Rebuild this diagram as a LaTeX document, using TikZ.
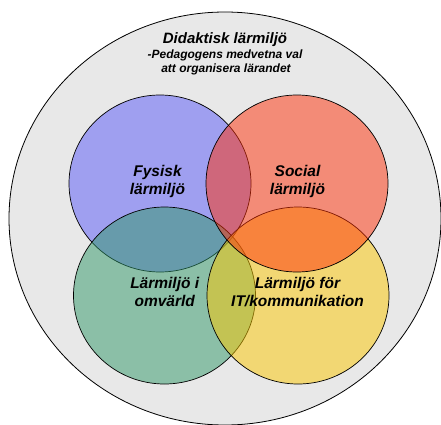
\documentclass[tikz,border=0pt]{standalone}
\usepackage{fontspec}
\setmainfont{Liberation Sans}
\usepackage{xcolor}
\usepackage{tikz}
\usetikzlibrary{calc}

\definecolor{outergray}{RGB}{232,232,232}
\definecolor{fysblue}{RGB}{88,88,248}
\definecolor{omvgreen}{RGB}{48,152,104}
\definecolor{ityellow}{RGB}{252,200,0}
\definecolor{socred}{RGB}{255,48,8}

\tikzset{
	area/.style = {draw = black, line width = 0.7pt, fill opacity = 0.5},
	areatext/.style = {align = center, inner sep = 0pt, font = \fontsize{15.5}{18}\selectfont\bfseries\itshape},
	subtext/.style = {anchor = base, inner sep = 0pt, font = \fontsize{12}{14}\selectfont\bfseries\itshape}
}

\begin{document}
\begin{tikzpicture}[x = 1pt, y = 1pt]
		\useasboundingbox (0,0) rectangle (441,424);
		
		%variables
		\def\rx{91};
		\def\ry{88.5};
		
		%centres of the areas
		\coordinate (O) at (225,205.5);
		\coordinate (fys) at (160,240.5);
		\coordinate (soc) at (297,240.5);
		\coordinate (omv) at (164.5,128.5);
		\coordinate (it) at (298,128.5);
		
		%didactic environment
		\draw [line width = 0.8pt, fill = outergray] (O) ellipse [x radius = 216, y radius = 206.5];
		
		\node [anchor = base, inner sep = 0pt, font = \fontsize{15}{18}\selectfont\bfseries\itshape] (title) at (225,380.5) {Didaktisk lärmiljö};
		\node [subtext] (sub1) at (225,365.5) {-Pedagogens medvetna val};
		\node [subtext] (sub2) at (226,351.5) {att organisera lärandet};
		
		%areas
		\fill [area, fill = fysblue] (fys) ellipse [x radius = \rx, y radius = \ry];
		\fill [area, fill = omvgreen] (omv) ellipse [x radius = \rx, y radius = \ry];
		\fill [area, fill = ityellow] (it) ellipse [x radius = \rx, y radius = \ry];
		\fill [area, fill = socred] (soc) ellipse [x radius = \rx, y radius = \ry];
		
		%labels
		\node [areatext] (fystext) at ($ (fys) + (-2.5,1.6) $) {Fysisk\\lärmiljö};
		\node [areatext] (soctext) at ($ (soc) + (0.5,1.6) $) {Social\\lärmiljö};
		\node [areatext] (omvtext) at ($ (omv) + (0.2,3.2) $) {Lärmiljö i\\omvärld};
		\node [areatext] (ittext) at ($ (it) + (-0.5,3.2) $) {Lärmiljö för\\IT/kommunikation};
	\end{tikzpicture}
\end{document}
